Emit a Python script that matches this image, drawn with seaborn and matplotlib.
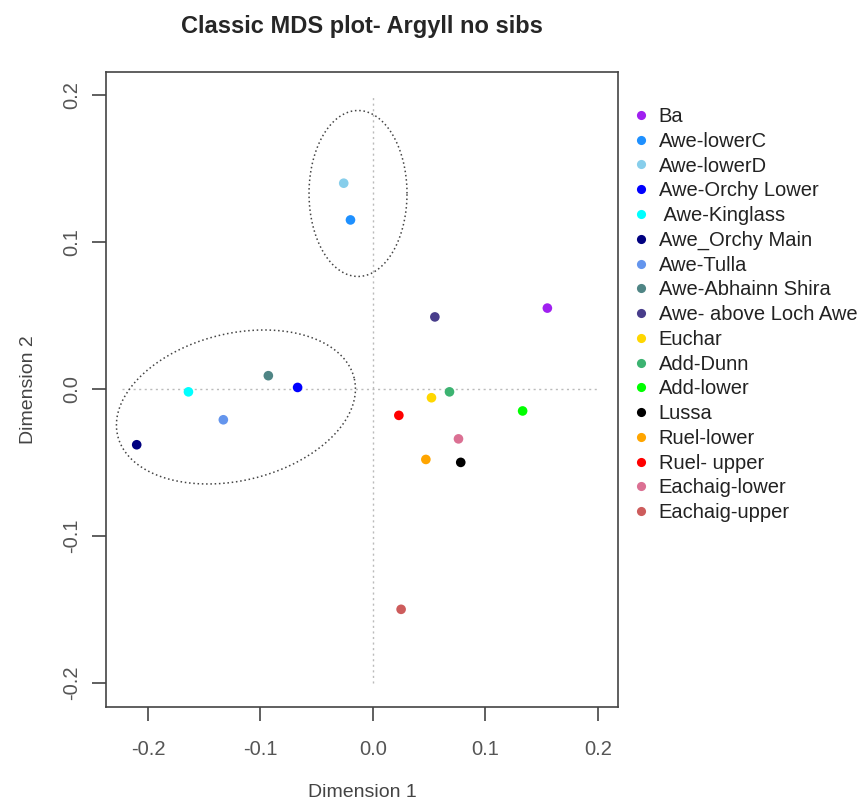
import numpy as np
import pandas as pd
import matplotlib
matplotlib.use("Agg")
import matplotlib.pyplot as plt
import seaborn as sns

# MDS coordinates
sites = ["Ba", "Awe-lowerC", "Awe-lowerD", "Awe-Orchy Lower", " Awe-Kinglass",
         "Awe_Orchy Main", "Awe-Tulla", "Awe-Abhainn Shira", "Awe- above Loch Awe",
         "Euchar", "Add-Dunn", "Add-lower", "Lussa", "Ruel-lower", "Ruel- upper",
         "Eachaig-lower", "Eachaig-upper"]
dim1 = [0.155, -0.020, -0.026, -0.067, -0.164, -0.210, -0.133, -0.093, 0.055,
        0.052, 0.068, 0.133, 0.078, 0.047, 0.023, 0.076, 0.025]
dim2 = [0.055, 0.115, 0.140, 0.001, -0.002, -0.038, -0.021, 0.009, 0.049,
        -0.006, -0.002, -0.015, -0.050, -0.048, -0.018, -0.034, -0.150]
colours = ["#A020F0", "#1E90FF", "#87CEEB", "#0000FF", "#00FFFF", "#000080",
           "#6495ED", "#4F8585", "#483D8B", "#FFD700", "#3CB371", "#00FF00",
           "#000000", "#FFA500", "#FF0000", "#DB7093", "#CD5C5C"]

df = pd.DataFrame({"site": sites, "Dimension 1": dim1, "Dimension 2": dim2})

sns.set_style("white")
plt.rcParams["font.family"] = ["Liberation Sans", "DejaVu Sans"]
plt.rcParams["axes.unicode_minus"] = False

fig = plt.figure(figsize=(8.61, 8.05), dpi=100)
ax = fig.add_axes([0.1231, 0.1217, 0.5947, 0.7889])

sns.scatterplot(data=df, x="Dimension 1", y="Dimension 2", hue="site",
                hue_order=sites, palette=colours, s=48, linewidth=0, ax=ax,
                zorder=3)

ax.set_xlim(-0.2373, 0.2178)
ax.set_ylim(-0.2165, 0.2157)

# dotted reference lines through the origin
ax.plot([-0.223, 0.2], [0, 0], ls=(0, (1.5, 2.5)), color="#bbbbbb", lw=1)
ax.plot([0, 0], [-0.2, 0.2], ls=(0, (1.5, 2.5)), color="#bbbbbb", lw=1)

# group ellipses (drawn in screen pixels around a data centre)
fig.canvas.draw()
def ellipse(cx, cy, a_px, b_px, ang_deg):
    t = np.linspace(0, 2 * np.pi, 300)
    th = np.deg2rad(ang_deg)
    c = ax.transData.transform((cx, cy))
    px = c[0] + a_px * np.cos(t) * np.cos(th) - b_px * np.sin(t) * np.sin(th)
    py = c[1] + a_px * np.cos(t) * np.sin(th) + b_px * np.sin(t) * np.cos(th)
    pts = ax.transData.inverted().transform(np.column_stack([px, py]))
    ax.plot(pts[:, 0], pts[:, 1], ls=(0, (1, 1.8)), color="#444444", lw=1.1)

ellipse(-0.0133, 0.133, 49, 83, 0)
ellipse(-0.1218, -0.0123, 121.7, 73.5, 13.7)

ticks = [-0.2, -0.1, 0.0, 0.1, 0.2]
ax.set_xticks(ticks)
ax.set_yticks(ticks)
ax.set_xticklabels([f"{v:.1f}" for v in ticks])
ax.set_yticklabels([f"{v:.1f}" for v in ticks], rotation=90, va="center")
ax.tick_params(axis="both", direction="out", length=10, width=1.2,
               colors="#444444", labelcolor="#555555", labelsize=14.5,
               bottom=True, left=True)
ax.tick_params(axis="x", pad=14)
ax.tick_params(axis="y", pad=8)
for sp in ax.spines.values():
    sp.set_color("#444444")
    sp.set_linewidth(1.2)

ax.set_xlabel("Dimension 1", fontsize=14, color="#444444", labelpad=18)
ax.set_ylabel("Dimension 2", fontsize=14, color="#444444", labelpad=18)
ax.set_title("Classic MDS plot- Argyll no sibs", fontsize=17, fontweight="bold",
             pad=28)

handles, labels = ax.get_legend_handles_labels()
ax.legend(handles, labels, loc="upper left", bbox_to_anchor=(0.734, 0.867),
          bbox_transform=fig.transFigure, frameon=False, fontsize=14.5,
          labelspacing=0.285, handletextpad=0.42, handlelength=0.9,
          borderpad=0, borderaxespad=0, markerscale=0.95,
          labelcolor="#222222")

fig.savefig("out.png", dpi=100)
